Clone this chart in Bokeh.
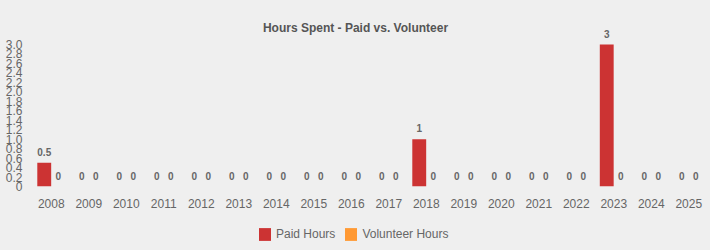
from bokeh.plotting import figure
from bokeh.layouts import column
from bokeh.models import (FactorRange, Range1d, FixedTicker, PrintfTickFormatter,
                          Legend, LegendItem, ColumnDataSource, Label)
from bokeh.transform import dodge
from bokeh.core.properties import value
from bokeh.embed import file_html
from bokeh.resources import INLINE

years = [str(y) for y in range(2008, 2026)]
paid_hours = [0.5, 0, 0, 0, 0, 0, 0, 0, 0, 0, 1, 0, 0, 0, 0, 3, 0, 0]
volunteer_hours = [0, 0, 0, 0, 0, 0, 0, 0, 0, 0, 0, 0, 0, 0, 0, 0, 0, 0]
y_ticks = [0, 0.2, 0.4, 0.6, 0.8, 1.0, 1.2, 1.4, 1.6, 1.8, 2.0, 2.2, 2.4, 2.6, 2.8, 3.0]
series_names = ["Paid Hours", "Volunteer Hours"]
series_colors = ["#CC3333", "#FF9933"]
title_text = "Hours Spent - Paid vs. Volunteer"

BG = "#EFEFEF"
TXT = "#666666"
FONT = "Liberation Sans"

MAIN_H = 218
FRAME_TOP = 15
FRAME_BOTTOM = 186
AXIS_TOP_PX = 44  # pixel row of the 3.0 tick
y_max = 3.0 * (FRAME_BOTTOM - FRAME_TOP) / (FRAME_BOTTOM - AXIS_TOP_PX)

def fmt(v):
    return f"{v:g}"

src = ColumnDataSource(dict(
    year=years,
    paid=paid_hours,
    vol=volunteer_hours,
    paid_lbl=[fmt(v) for v in paid_hours],
    vol_lbl=[fmt(v) for v in volunteer_hours],
))

p = figure(width=710, height=MAIN_H, x_range=FactorRange(*years, range_padding=0),
           y_range=Range1d(0, y_max), output_backend="svg", toolbar_location=None,
           min_border_left=32, min_border_right=3, min_border_top=FRAME_TOP,
           min_border_bottom=MAIN_H - FRAME_BOTTOM)

p.background_fill_color = BG
p.border_fill_color = BG
p.outline_line_color = None
p.xgrid.grid_line_color = None
p.ygrid.grid_line_color = None

bw = 0.37
p.vbar(x=dodge("year", -0.187, range=p.x_range), top="paid", width=bw, source=src,
       fill_color=series_colors[0], line_color=None)
p.vbar(x=dodge("year", 0.187, range=p.x_range), top="vol", width=bw, source=src,
       fill_color=series_colors[1], line_color=None)

for col, lbl, off in (("paid", "paid_lbl", -0.187), ("vol", "vol_lbl", 0.187)):
    p.text(x=dodge("year", off, range=p.x_range), y=col, text=lbl, source=src,
           text_align="center", text_baseline="bottom", y_offset=-7,
           text_font=value(FONT), text_font_size="10px", text_font_style="bold",
           text_color=TXT)

title = Label(x=355 - 32, y=FRAME_BOTTOM - 27, x_units="screen", y_units="screen",
              text=title_text, text_align="center", text_baseline="middle",
              text_font=FONT, text_font_size="12px", text_font_style="bold",
              text_color="#555555")
p.add_layout(title)

# axes
p.yaxis.ticker = FixedTicker(ticks=y_ticks)
p.yaxis.formatter = PrintfTickFormatter(format="%.1f")
p.yaxis.major_label_overrides = {0: "0"}
for ax in (p.xaxis[0], p.yaxis[0]):
    ax.axis_line_color = None
    ax.major_tick_line_color = None
    ax.minor_tick_line_color = None
    ax.major_tick_out = 0
    ax.major_tick_in = 0
    ax.major_label_text_font = FONT
    ax.major_label_text_font_size = "12px"
    ax.major_label_text_color = TXT
p.yaxis.major_label_standoff = 10
p.xaxis.major_label_standoff = 12

# legend strip (bars drawn out of view; only the legend is visible)
LEG_H = 250 - MAIN_H
pl = figure(width=710, height=LEG_H, output_backend="svg", toolbar_location=None,
            x_range=FactorRange(*years), y_range=Range1d(100, 101),
            x_axis_location=None, y_axis_location=None,
            min_border=0, min_border_left=0, min_border_right=0,
            min_border_top=0, min_border_bottom=0)
pl.background_fill_color = BG
pl.border_fill_color = BG
pl.outline_line_color = None
pl.grid.visible = False
items = []
for name, col, color in zip(series_names, ("paid", "vol"), series_colors):
    r = pl.vbar(x="year", top=col, width=0.5, source=src, fill_color=color, line_color=None)
    items.append(LegendItem(label=name, renderers=[r]))
legend = Legend(items=items, orientation="horizontal", location=(225, 8),
                background_fill_alpha=0, border_line_color=None,
                padding=0, margin=0, spacing=8, label_standoff=4,
                glyph_width=15, glyph_height=16, label_height=16,
                label_text_font=FONT, label_text_font_size="12px", label_text_color=TXT)
pl.add_layout(legend, "center")

layout = column(p, pl, spacing=0)
layout.styles = {"background-color": BG}
open("out.html", "w").write(file_html(layout, INLINE))
